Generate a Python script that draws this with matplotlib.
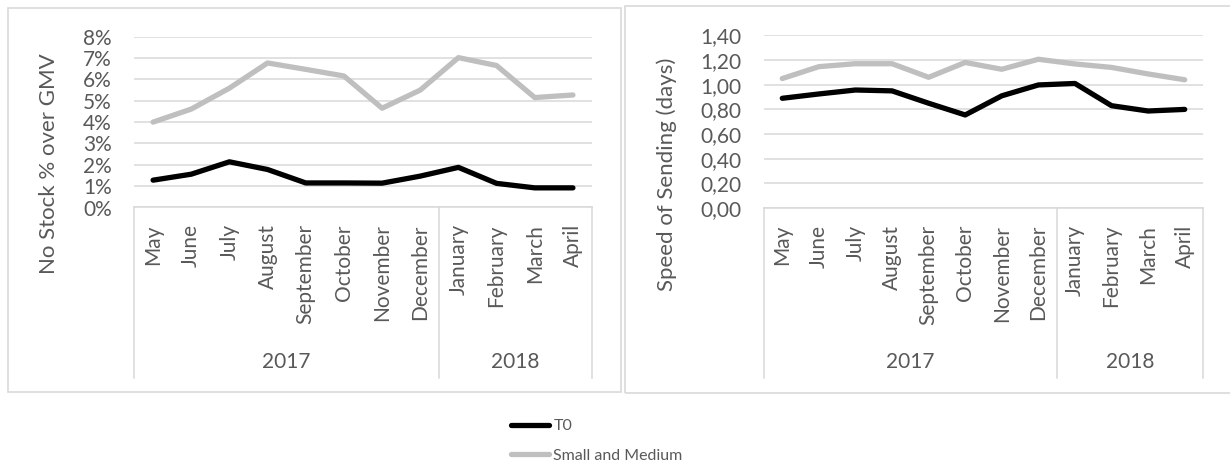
import matplotlib
matplotlib.use("Agg")
import matplotlib.pyplot as plt
from matplotlib.patches import Rectangle
from matplotlib.lines import Line2D
from matplotlib.ticker import FuncFormatter, MultipleLocator
from matplotlib.transforms import blended_transform_factory

months = ["May", "June", "July", "August", "September", "October",
          "November", "December", "January", "February", "March", "April"]
years = ["2017", "2018"]
year_spans = [(0, 7), (8, 11)]

# No Stock % over GMV (fractions)
nostock_t0 = [0.0128, 0.0156, 0.0214, 0.0178, 0.0115, 0.0115,
              0.0114, 0.0147, 0.0188, 0.0113, 0.0092, 0.0092]
nostock_sm = [0.0400, 0.0461, 0.0559, 0.0677, 0.0647, 0.0616,
              0.0465, 0.0550, 0.0702, 0.0665, 0.0515, 0.0527]

# Speed of Sending (days)
speed_t0 = [0.89, 0.925, 0.957, 0.95, 0.85, 0.755,
            0.91, 0.998, 1.01, 0.83, 0.787, 0.80]
speed_sm = [1.05, 1.146, 1.17, 1.17, 1.06, 1.18,
            1.125, 1.206, 1.168, 1.14, 1.087, 1.04]

series_names = ["T0", "Small and Medium"]
series_colors = ["#000000", "#bfbfbf"]

W, H = 1230, 461
TEXT = "#595959"
GRID = "#d9d9d9"
FONT = "Lato"

plt.rcParams["font.family"] = [FONT, "DejaVu Sans"]

fig = plt.figure(figsize=(W / 100, H / 100), dpi=100)


def fx(px):
    return px / W


def fy(py):
    return 1 - py / H


# panel frames
for (x0, y0, x1, y1) in [(8, 8, 621, 392), (625, 6, 1232, 393)]:
    fig.add_artist(Rectangle((fx(x0), fy(y1)), fx(x1 - x0), (y1 - y0) / H,
                             transform=fig.transFigure, fill=False,
                             edgecolor=GRID, linewidth=1.2))


def make_panel(left, right, top, bottom, ymax, step, fmt, t0, sm,
               ylabel, ylabel_x, ylabel_y):
    ax = fig.add_axes([fx(left), fy(bottom), fx(right - left), (bottom - top) / H])
    x = list(range(len(months)))
    for vals, col, name in zip([t0, sm], series_colors, series_names):
        ax.plot(x, vals, color=col, lw=3.8, solid_capstyle="round",
                solid_joinstyle="round", label=name, zorder=3)
    ax.set_xlim(-0.5, len(months) - 0.5)
    ax.set_ylim(0, ymax)
    ax.yaxis.set_major_locator(MultipleLocator(step))
    ax.yaxis.set_major_formatter(FuncFormatter(fmt))
    ax.grid(axis="y", color=GRID, lw=1.1, zorder=0)
    for s in ["top", "right", "left"]:
        ax.spines[s].set_visible(False)
    ax.spines["bottom"].set_color(GRID)
    ax.spines["bottom"].set_linewidth(1.1)
    ax.set_xticks(x)
    ax.set_xticklabels(months, rotation=90, fontsize=15, color=TEXT)
    ax.tick_params(axis="x", length=0, pad=12)
    ax.tick_params(axis="y", length=0, pad=16, labelsize=15, labelcolor=TEXT)
    ax.set_ylabel(ylabel, fontsize=16, color=TEXT)
    ax.yaxis.set_label_coords((ylabel_x - left) / (right - left),
                              (bottom - ylabel_y) / (bottom - top))

    # multi-level category axis: divider lines and year labels
    tr = blended_transform_factory(ax.transData, fig.transFigure)
    for xv in [-0.5, year_spans[0][1] + 0.5, len(months) - 0.5]:
        ax.add_line(Line2D([xv, xv], [fy(bottom), fy(378)], transform=tr,
                           color=GRID, lw=1.1, clip_on=False))
    for yr, (a, b) in zip(years, year_spans):
        ax.text((a + b) / 2, fy(362), yr, transform=tr, ha="center",
                va="center", fontsize=15, color=TEXT)
    return ax


ax1 = make_panel(134, 592, 36.7, 207.5, 0.08, 0.01,
                 lambda v, p: f"{round(v * 100):d}%",
                 nostock_t0, nostock_sm, "No Stock % over GMV", 59, 163.5)
ax2 = make_panel(764, 1203, 35.3, 208.2, 1.4, 0.2,
                 lambda v, p: f"{v:.2f}".replace(".", ","),
                 speed_t0, speed_sm, "Speed of Sending (days)", 677, 174.5)

handles, labels = ax1.get_legend_handles_labels()
fig.legend(handles, labels, loc="upper left",
           bbox_to_anchor=(fx(511), fy(419)), frameon=False, ncol=1,
           fontsize=11.5, handlelength=2.4, handletextpad=0.25,
           labelspacing=0.95, borderpad=0, borderaxespad=0,
           labelcolor=TEXT)

fig.savefig("out.png", dpi=100)
